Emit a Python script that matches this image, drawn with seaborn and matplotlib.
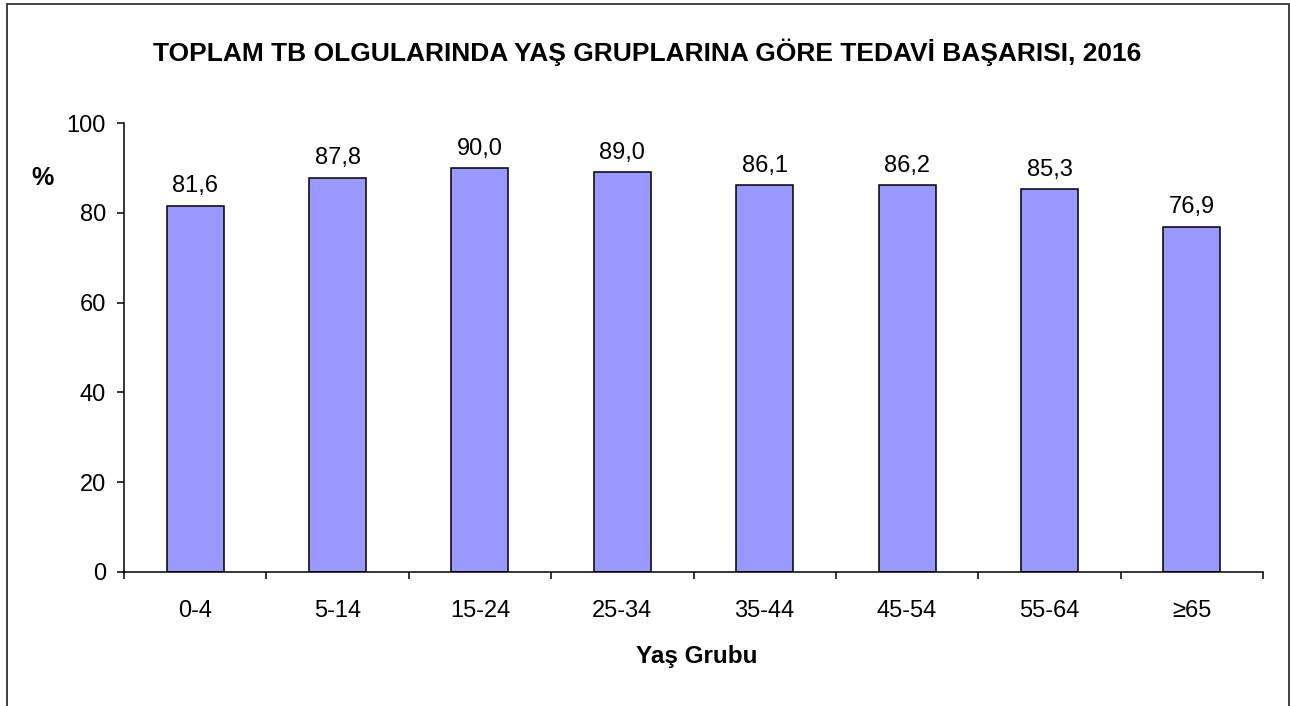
import matplotlib
matplotlib.use("Agg")
import matplotlib.pyplot as plt
from matplotlib.patches import Rectangle
import seaborn as sns
import pandas as pd
import numpy as np

categories = ["0-4", "5-14", "15-24", "25-34", "35-44", "45-54", "55-64", "≥65"]
values = [81.6, 87.8, 90.0, 89.0, 86.1, 86.2, 85.3, 76.9]
y_ticks = [0, 20, 40, 60, 80, 100]
title = "TOPLAM TB OLGULARINDA YAŞ GRUPLARINA GÖRE TEDAVİ BAŞARISI, 2016"
xlabel = "Yaş Grubu"
ylabel = "%"

sns.set_style("white")
plt.rcParams["font.family"] = ["Liberation Sans", "DejaVu Sans"]
plt.rcParams["text.color"] = "black"
plt.rcParams["xtick.color"] = "black"
plt.rcParams["ytick.color"] = "black"

df = pd.DataFrame({"grp": categories, "val": values})

fig = plt.figure(figsize=(12.9, 7.06), dpi=100)
ax = fig.add_axes([124/1290, 1 - 572/706, (1263-124)/1290, (572-123)/706])

sns.barplot(data=df, x="grp", y="val", ax=ax, color="#9999FF", saturation=1,
            edgecolor="black", linewidth=1.1, width=0.4)

ax.set_xlim(-0.5, len(categories) - 0.5)
ax.set_ylim(0, 100)
ax.set_yticks(y_ticks)
ax.set_yticklabels([str(t) for t in y_ticks], fontsize=17, color="black")
ax.set_xticks(range(len(categories)))
ax.set_xticklabels(categories, fontsize=17, color="black")
ax.set_xticks(np.arange(-0.5, len(categories), 1.0), minor=True)
ax.tick_params(axis="x", which="major", length=0, pad=20)
ax.tick_params(axis="x", which="minor", length=5, width=1.1, color="black", direction="out", bottom=True)
ax.tick_params(axis="y", which="major", length=5, width=1.1, color="black", direction="out", left=True, pad=8)
ax.set_xlabel("")
ax.set_ylabel("")
for s in ["top", "right"]:
    ax.spines[s].set_visible(False)
for s in ["left", "bottom"]:
    ax.spines[s].set_color("black")
    ax.spines[s].set_linewidth(1.1)
ax.grid(False)

for i, v in enumerate(values):
    ax.annotate(f"{v:.1f}".replace(".", ","), (i, v), xytext=(0, 6),
                textcoords="offset points", ha="center", va="bottom", fontsize=17, color="black")

fig.text(647/1290, 1 - 52/706, title, ha="center", va="center", fontsize=19, fontweight="bold", color="black")
fig.text(43/1290, 1 - 178/706, ylabel, ha="center", va="center", fontsize=18, fontweight="bold", color="black")
fig.text(697/1290, 1 - 656/706, xlabel, ha="center", va="center", fontsize=17.5, fontweight="bold", color="black")

fig.patches.append(Rectangle((7/1290, -0.05), (1289-7)/1290, 1.05 - 4/706,
                             transform=fig.transFigure, fill=False,
                             edgecolor="#333333", linewidth=1.3, figure=fig))

fig.savefig("out.png", dpi=100)
